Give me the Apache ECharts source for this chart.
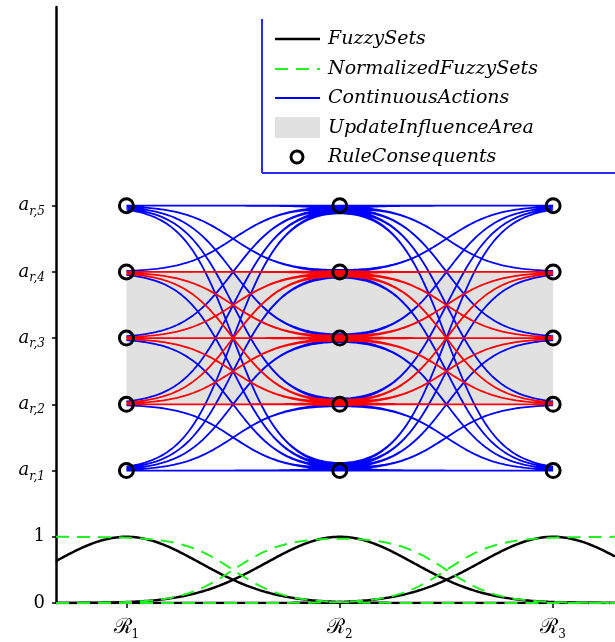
<!DOCTYPE html>
<html><head><meta charset="utf-8">
<script src="https://cdn.jsdelivr.net/npm/echarts@6/dist/echarts.min.js"></script>
<style>html,body{margin:0;padding:0;background:#fff}#c{width:615px;height:642px}</style>
</head><body><div id="c"></div>
<script>
// ---- data ----
const ruleCenters = [1, 2, 3];                 // positions of R1, R2, R3
const ruleSubscripts = ['1', '2', '3'];
const actionLevels = [2, 3, 4, 5, 6];          // a_{r,1} .. a_{r,5}
const actionSubscripts = ['r,1', 'r,2', 'r,3', 'r,4', 'r,5'];
const membershipTicks = [0, 1];
const fuzzyWidth = 0.345;                      // Gaussian spread of each fuzzy set
const influenceLevels = [1, 2, 3];             // indices a_{r,2}..a_{r,4} (update area)
const influenceBand = [3, 5];                  // a_{r,2} .. a_{r,4}
const xRange = [0.67, 3.29];
const yRange = [0, 9];
const legendNames = ['FuzzySets', 'NormalizedFuzzySets', 'ContinuousActions', 'UpdateInfluenceArea', 'RuleConsequents'];

// ---- helpers ----
function mu(i, x) { const d = x - ruleCenters[i]; return Math.exp(-d * d / (2 * fuzzyWidth * fuzzyWidth)); }
function wN(i, x) { let s = 0; for (let j = 0; j < ruleCenters.length; j++) s += mu(j, x); return mu(i, x) / s; }
function samples(a, b, n) { const r = []; for (let k = 0; k <= n; k++) r.push(a + (b - a) * k / n); return r; }

const xsFull = samples(xRange[0], xRange[1], 260);

const fuzzySeries = ruleCenters.map((c, i) => ({
  type: 'line', name: legendNames[0], data: xsFull.map(x => [x, mu(i, x)]),
  showSymbol: false, symbol: 'none', lineStyle: { color: '#000', width: 2.5 }, z: 3, silent: true
}));
const normSeries = ruleCenters.map((c, i) => ({
  type: 'line', name: legendNames[1], data: xsFull.map(x => [x, wN(i, x)]),
  showSymbol: false, symbol: 'none', lineStyle: { color: '#22ee22', width: 2, type: [13, 8] }, z: 4, silent: true
}));

// continuous actions: each combination of consequents, drawn segment by segment
const blueData = [], redData = [];
const n = actionLevels.length;
for (let a = 0; a < n; a++) for (let b = 0; b < n; b++) for (let c = 0; c < n; c++) {
  const choice = [a, b, c];
  for (let s = 0; s < ruleCenters.length - 1; s++) {
    const red = influenceLevels.includes(choice[s]) && influenceLevels.includes(choice[s + 1]);
    const target = red ? redData : blueData;
    const xs = samples(ruleCenters[s], ruleCenters[s + 1], 80);
    xs.forEach(x => {
      let y = 0;
      for (let i = 0; i < 3; i++) y += wN(i, x) * actionLevels[choice[i]];
      target.push([x, y]);
    });
    target.push([ruleCenters[s + 1], '-']);
  }
}

const consequents = [];
ruleCenters.forEach(c => actionLevels.forEach(v => consequents.push([c, v])));

const serif = 'DejaVu Serif';
const chart = echarts.init(document.getElementById('c'));
chart.setOption({
  animation: false,
  backgroundColor: '#fff',
  grid: { left: 56, right: 0, top: 7, bottom: 39 },
  xAxis: {
    type: 'value', min: xRange[0], max: xRange[1],
    axisLine: { show: true, lineStyle: { color: '#000', width: 2 } },
    splitLine: { show: false },
    axisTick: { show: true, customValues: ruleCenters, length: 5, lineStyle: { color: '#000', width: 1.5 } },
    axisLabel: {
      customValues: ruleCenters, margin: 12,
      formatter: v => { const i = ruleCenters.indexOf(v); return i < 0 ? '' : '{r|ℛ}{s|' + ruleSubscripts[i] + '}'; },
      rich: {
        r: { fontFamily: serif, fontSize: 21, color: '#000', lineHeight: 26 },
        s: { fontFamily: serif, fontSize: 12, color: '#000', lineHeight: 26, verticalAlign: 'bottom' }
      }
    }
  },
  yAxis: {
    type: 'value', min: yRange[0], max: yRange[1],
    axisLine: { show: true, lineStyle: { color: '#000', width: 2.5 } },
    splitLine: { show: false },
    axisTick: { show: true, customValues: membershipTicks.concat(actionLevels), length: 4, lineStyle: { color: '#000', width: 1.5 } },
    axisLabel: {
      customValues: membershipTicks.concat(actionLevels), margin: 11,
      formatter: v => {
        const i = actionLevels.indexOf(v);
        if (i >= 0) return '{a|a}{s|' + actionSubscripts[i] + '}';
        return '{n|' + v + '}';
      },
      rich: {
        a: { fontFamily: serif, fontStyle: 'italic', fontSize: 18, color: '#000', lineHeight: 24 },
        s: { fontFamily: serif, fontStyle: 'italic', fontSize: 12, color: '#000', lineHeight: 24, verticalAlign: 'bottom' },
        n: { fontFamily: serif, fontSize: 18, color: '#000' }
      }
    }
  },
  series: [
    {
      type: 'line', name: legendNames[3], data: [], silent: true, z: 1,
      markArea: { silent: true, itemStyle: { color: '#e1e1e1' },
        data: [[{ coord: [ruleCenters[0], influenceBand[0]] }, { coord: [ruleCenters[2], influenceBand[1]] }]] }
    },
    { type: 'line', name: legendNames[2], data: blueData, showSymbol: false, symbol: 'none', connectNulls: false,
      lineStyle: { color: '#0000ff', width: 1.8 }, z: 2, silent: true },
    { type: 'line', name: legendNames[2] + ' (area)', data: redData, showSymbol: false, symbol: 'none', connectNulls: false,
      lineStyle: { color: '#ff0000', width: 1.8 }, z: 2, silent: true },
    ...fuzzySeries,
    ...normSeries,
    { type: 'scatter', name: legendNames[4], data: consequents, symbol: 'circle', symbolSize: 14,
      itemStyle: { color: 'rgba(0,0,0,0)', borderColor: '#000', borderWidth: 3, opacity: 1 }, z: 6, silent: true }
  ],
  graphic: [
    { type: 'line', shape: { x1: 262, y1: 19, x2: 262, y2: 173 }, style: { stroke: '#2a2aff', lineWidth: 2 } },
    { type: 'line', shape: { x1: 262, y1: 173, x2: 615, y2: 173 }, style: { stroke: '#2a2aff', lineWidth: 2 } },
    { type: 'line', shape: { x1: 275, y1: 39, x2: 320, y2: 39 }, style: { stroke: '#000', lineWidth: 2.5 } },
    { type: 'line', shape: { x1: 275, y1: 69, x2: 320, y2: 69 }, style: { stroke: '#22ee22', lineWidth: 2, lineDash: [13, 8] } },
    { type: 'line', shape: { x1: 275, y1: 98, x2: 320, y2: 98 }, style: { stroke: '#0000ff', lineWidth: 2 } },
    { type: 'rect', shape: { x: 275, y: 117, width: 45, height: 21 }, style: { fill: '#e1e1e1' } },
    { type: 'circle', shape: { cx: 297, cy: 157, r: 6 }, style: { stroke: '#000', lineWidth: 3, fill: 'none' } },
    ...legendNames.map((t, k) => ({
      type: 'text', x: 328, y: [39, 69, 98, 128, 157][k],
      style: { text: t, fontFamily: serif, fontStyle: 'italic', fontSize: 19, fill: '#000', verticalAlign: 'middle' }
    }))
  ]
});
</script></body></html>
